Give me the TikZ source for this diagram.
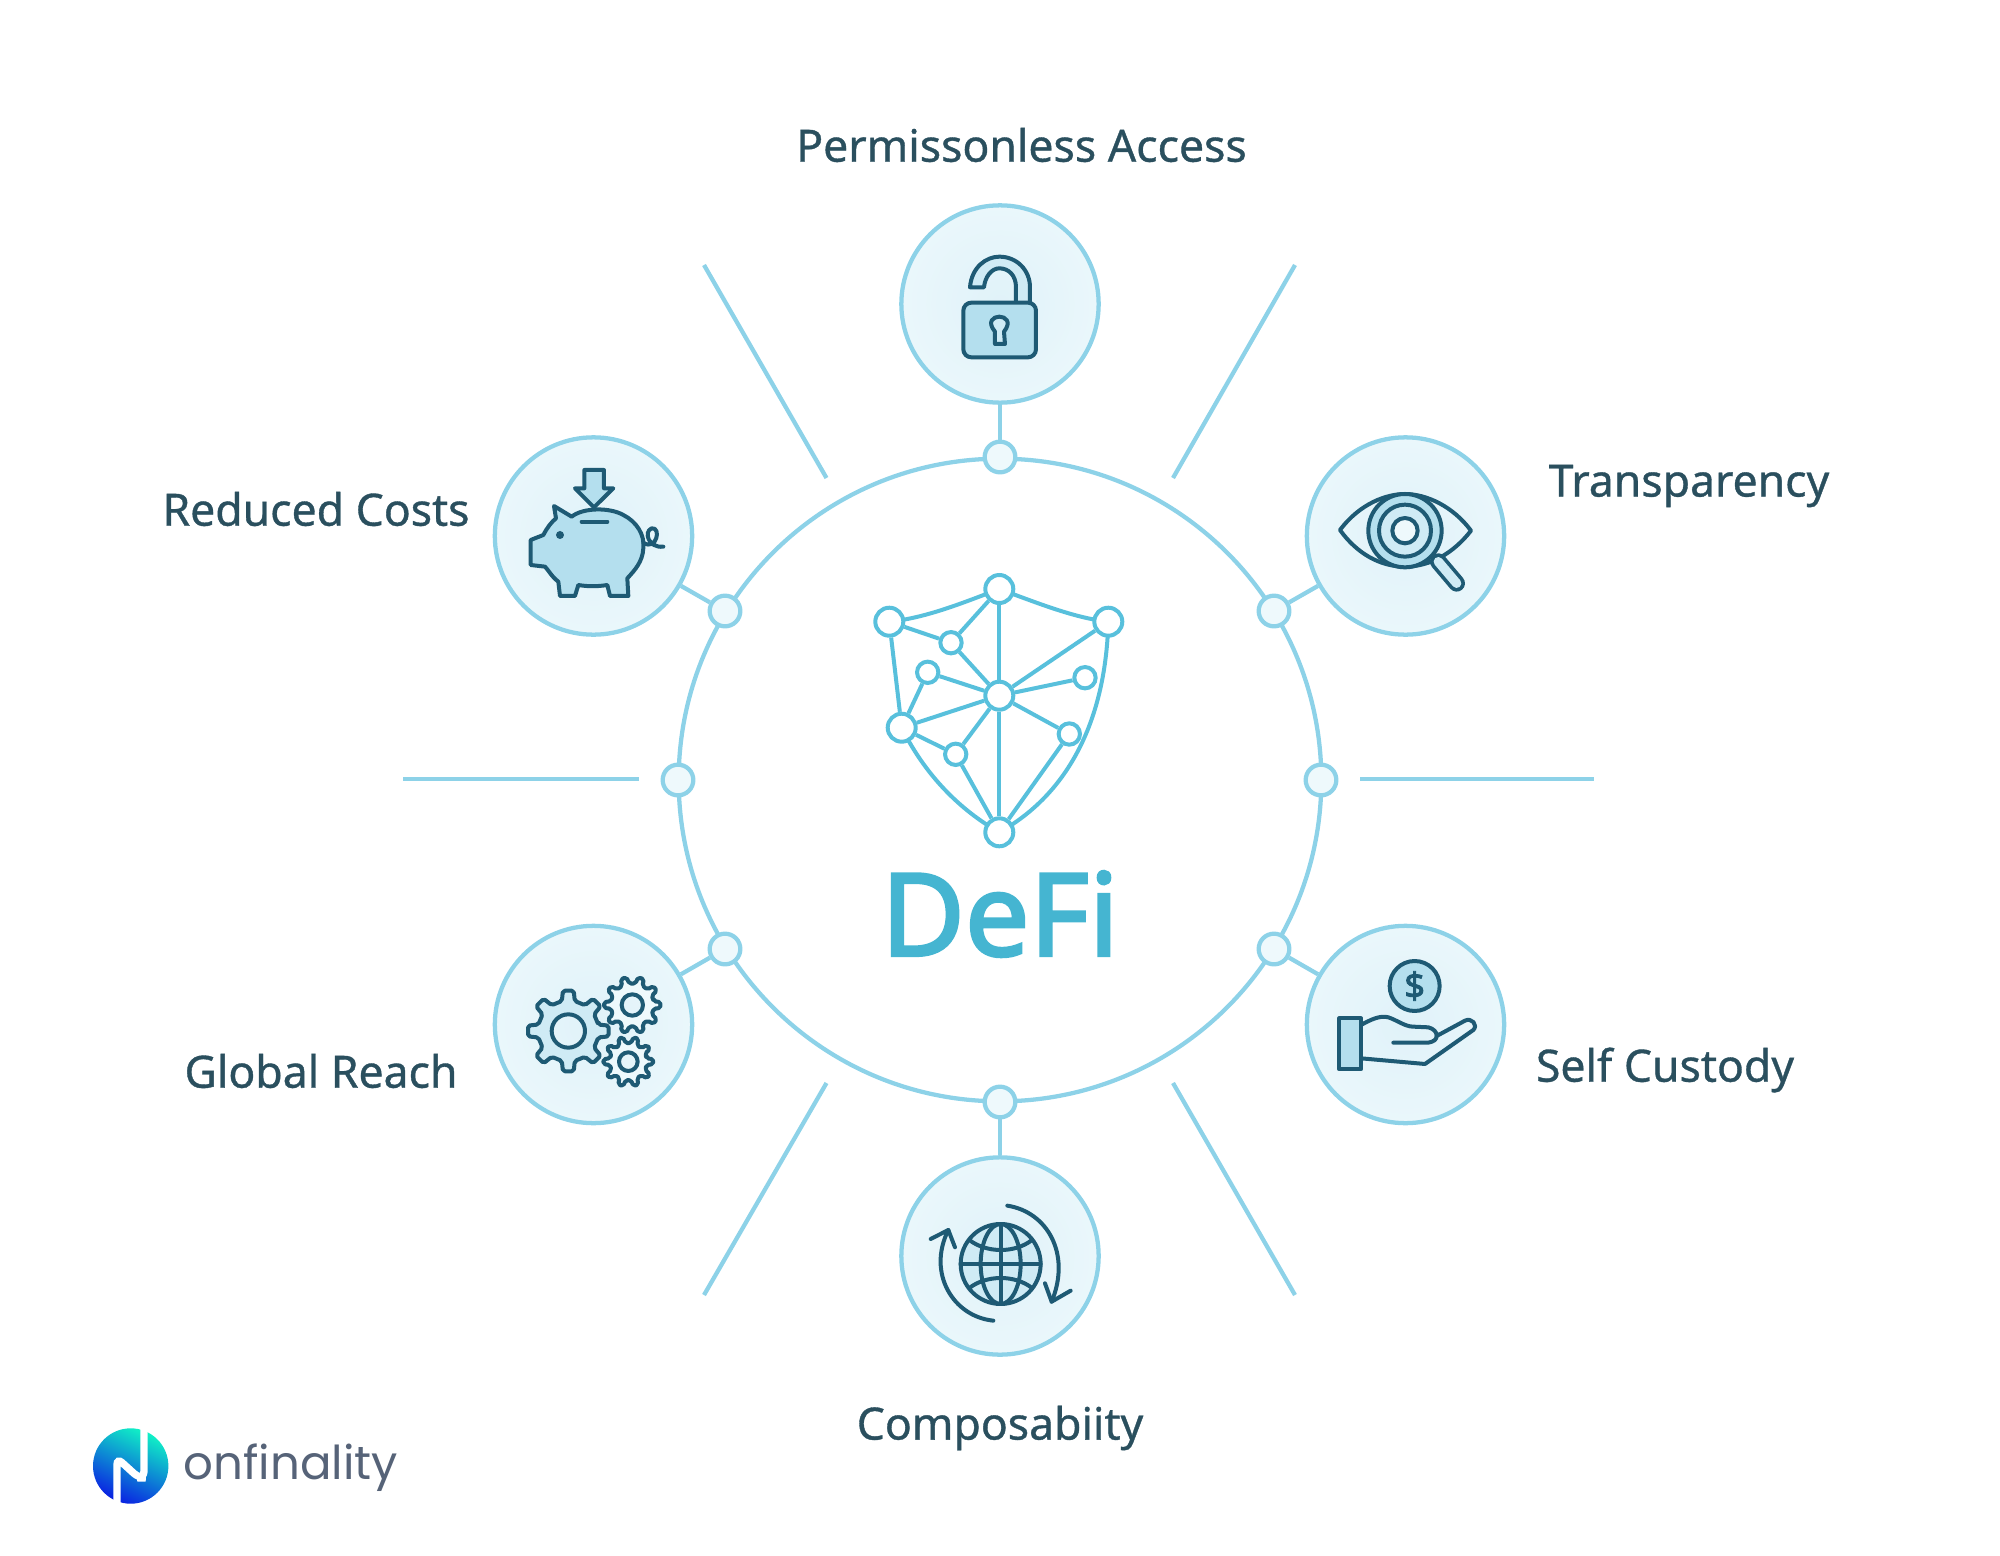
\documentclass[tikz,border=0pt]{standalone}
\usepackage{fontspec}
\setmainfont{Noto Sans}
\newfontfamily\logofont{Poppins}
\newfontfamily\labelfont[FakeBold=0.8]{Noto Sans}
\newfontfamily\defifont[FakeBold=2.5]{Noto Sans}
\definecolor{ringblue}{HTML}{8DD2E8}
\definecolor{ringfill}{HTML}{EEF9FC}
\definecolor{iconinner}{HTML}{E0F2F9}
\definecolor{iconouter}{HTML}{EAF7FB}
\definecolor{icondark}{HTML}{1E5A74}
\definecolor{iconmid}{HTML}{B4DFEE}
\definecolor{iconsoft}{HTML}{CFEBF5}
\definecolor{shieldblue}{HTML}{58C0DC}
\definecolor{defiblue}{HTML}{45B5D1}
\definecolor{labelink}{HTML}{2A4F5E}
\definecolor{logoink}{HTML}{566378}
\definecolor{logomint}{HTML}{10F2C6}
\definecolor{logoblue}{HTML}{0A20E2}
\tikzset{every picture/.style={line width=0.75pt}}
\tikzset{
  ringline/.style={draw=ringblue,line width=3.2pt},
  smalldot/.style={circle,draw=ringblue,fill=ringfill,line width=3.2pt,minimum size=23pt,inner sep=0pt},
  iconcircle/.style={circle,draw=ringblue,inner color=iconinner,outer color=iconouter,line width=3.2pt,minimum size=148pt,inner sep=0pt},
  iconline/.style={draw=icondark,line width=3pt,line join=round,line cap=round},
  labeltext/.style={text=labelink,font=\fontsize{33.4}{38}\labelfont,inner sep=0pt},
  shieldline/.style={draw=shieldblue,line width=3pt},
  shieldbig/.style={circle,draw=shieldblue,fill=white,line width=3pt,minimum size=21pt,inner sep=0pt},
  shieldsmall/.style={circle,draw=shieldblue,fill=white,line width=3pt,minimum size=16pt,inner sep=0pt},
}
\begin{document}
\begin{tikzpicture}[x=0.75pt,y=0.75pt,yscale=-1,xscale=1]
	\useasboundingbox (0,0) rectangle (2000,1556);

	%Ring
	\draw (1000,780) node [circle,ringline,minimum size=482pt,inner sep=0pt] (ring) {};

	%Dots on the ring
	\draw (1000,457) node [smalldot] (dotn) {};
	\draw (1000,1102) node [smalldot] (dots) {};
	\draw (678,780) node [smalldot] (dotw) {};
	\draw (1321,780) node [smalldot] (dote) {};
	\draw (725,611) node [smalldot] (dotnw) {};
	\draw (1274,611) node [smalldot] (dotne) {};
	\draw (725,949) node [smalldot] (dotsw) {};
	\draw (1274,949) node [smalldot] (dotse) {};

	%Icon circles
	\draw (1000,304) node [iconcircle] (lockcircle) {};
	\draw (593.5,536) node [iconcircle] (pigcircle) {};
	\draw (1405.5,536) node [iconcircle] (eyecircle) {};
	\draw (593.5,1024.5) node [iconcircle] (gearcircle) {};
	\draw (1405.5,1024.5) node [iconcircle] (handcircle) {};
	\draw (1000,1256) node [iconcircle] (globecircle) {};

	%Straight Lines
	\draw [ringline] (lockcircle) -- (dotn);
	\draw [ringline] (globecircle) -- (dots);
	\draw [ringline] (pigcircle) -- (dotnw);
	\draw [ringline] (eyecircle) -- (dotne);
	\draw [ringline] (gearcircle) -- (dotsw);
	\draw [ringline] (handcircle) -- (dotse);

	%Free lines
	\coordinate (rayaa) at (704,265);
	\coordinate (rayab) at (826.5,478);
	\coordinate (raybb) at (1173,478);
	\coordinate (rayba) at (1295,265);
	\coordinate (rayca) at (704,1295);
	\coordinate (raycb) at (826.5,1083);
	\coordinate (raydb) at (1173,1083);
	\coordinate (rayda) at (1295,1295);
	\coordinate (rayea) at (403,779);
	\coordinate (rayeb) at (639,779);
	\coordinate (rayfa) at (1360,779);
	\coordinate (rayfb) at (1594,779);
	\draw [ringline] (rayaa) -- (rayab);
	\draw [ringline] (rayba) -- (raybb);
	\draw [ringline] (rayca) -- (raycb);
	\draw [ringline] (rayda) -- (raydb);
	\draw [ringline] (rayea) -- (rayeb);
	\draw [ringline] (rayfa) -- (rayfb);

	%Shield
	\coordinate (shtop) at (999.3,589);
	\coordinate (shleft) at (889.3,621.7);
	\coordinate (shright) at (1108.3,621.7);
	\coordinate (shd) at (901.7,727.7);
	\coordinate (shbot) at (999.3,832.3);
	\draw [shieldline] (shleft) .. controls (925,618) and (960,604) .. (shtop);
	\draw [shieldline] (shtop) .. controls (1040,604) and (1075,618) .. (shright);
	\draw [shieldline] (shd) .. controls (925,775) and (960,810) .. (shbot);
	\draw [shieldline] (shright) .. controls (1106,710) and (1075,790) .. (shbot);
	\draw (999.3,589) node [shieldbig] (shtopn) {};
	\draw (889.3,621.7) node [shieldbig] (shleftn) {};
	\draw (1108.3,621.7) node [shieldbig] (shrightn) {};
	\draw (951,642.7) node [shieldsmall] (sha) {};
	\draw (927.7,672.3) node [shieldsmall] (shb) {};
	\draw (999.3,695.7) node [shieldbig] (shmid) {};
	\draw (1085,677.7) node [shieldsmall] (shc) {};
	\draw (901.7,727.7) node [shieldbig] (shdn) {};
	\draw (1069.3,734) node [shieldsmall] (she) {};
	\draw (955.7,754.3) node [shieldsmall] (shf) {};
	\draw (999.3,832.3) node [shieldbig] (shbotn) {};
	\foreach \from/\to in {shleftn/sha,sha/shtopn,sha/shmid,shb/shmid,shb/shdn,shdn/shmid,shdn/shf,shf/shmid,shf/shbotn,shtopn/shmid,shmid/shbotn,shmid/shrightn,shmid/shc,shmid/she,she/shbotn,shleftn/shdn}
		\draw [shieldline] (\from) -- (\to);

	%Lock
	\begin{scope}[shift={(880,190)},scale=0.3333]
		\draw [iconline,fill=iconsoft] (270,292) .. controls (275,230) and (320,200) .. (358,200) .. controls (410,200) and (450,240) .. (450,292) -- (450,340) -- (408,340) -- (408,292) .. controls (408,255) and (385,235) .. (358,235) .. controls (335,235) and (315,260) .. (312,292) -- cycle;
		\draw [iconline,fill=iconmid,rounded corners=6pt] (250,338) rectangle (468,502);
		\draw [iconline,fill=iconsoft] (345,425) .. controls (320,395) and (340,380) .. (358,380) .. controls (376,380) and (396,395) .. (372,425) -- (375,462) -- (345,462) -- cycle;
	\end{scope}

	%Piggy bank
	\begin{scope}[shift={(480,420)},scale=0.3333]
		\draw [iconline,fill=iconmid] (222,258) -- (275,290) .. controls (310,262) and (390,262) .. (430,285) .. controls (470,305) and (495,345) .. (490,385) .. controls (488,425) and (465,450) .. (442,475) -- (445,528) -- (390,528) -- (382,495) .. controls (350,500) and (325,500) .. (295,495) -- (285,528) -- (240,528) -- (235,485) .. controls (215,470) and (205,450) .. (195,440) -- (152,435) -- (152,360) -- (190,345) .. controls (200,325) and (215,305) .. (228,295) -- cycle;
		\draw [iconline] (305,305) -- (382,305);
		\fill [icondark] (240,345) circle (12);
		\draw [iconline] (490,368) .. controls (530,395) and (545,320) .. (515,325) .. controls (490,335) and (505,385) .. (550,380);
		\draw [iconline,fill=iconmid] (313,150) -- (372,150) -- (372,205) -- (400,205) -- (342,262) -- (285,205) -- (313,205) -- cycle;
	\end{scope}

	%Eye and lens
	\begin{scope}[shift={(1290,420)},scale=0.3333]
		\draw [iconline] (150,330) .. controls (210,250) and (290,222) .. (345,222) .. controls (410,222) and (490,260) .. (543,332) .. controls (490,400) and (420,440) .. (345,440) .. controls (270,440) and (200,400) .. (150,330) -- cycle;
		\draw [icondark,line width=12.5pt,line cap=round] (445,425) -- (500,490);
		\draw [iconsoft,line width=7pt,line cap=round] (445,425) -- (500,490);
		\draw [iconline,fill=iconmid] (345,332) circle (110);
		\draw [iconline,fill=iconsoft] (345,332) circle (78);
		\draw [iconline,fill=ringfill] (345,332) circle (38);
	\end{scope}

	%Gears
	\begin{scope}[shift={(480,910)},scale=0.3333]
		\foreach \gx/\gy/\gout/\gin/\ghole/\gteeth/\gfill in {265/363/122/92/50/8/iconsoft,457/285/85/65/32/10/ringfill,445/455/75/56/28/10/ringfill}
			\draw [iconline,shift={(\gx,\gy)},fill=\gfill,rounded corners=1.5pt,even odd rule] ({-0.27*360/\gteeth}:\gin) \foreach \tooth in {1,...,\gteeth} { -- ({(\tooth-1)*360/\gteeth-0.17*360/\gteeth}:\gout) -- ({(\tooth-1)*360/\gteeth+0.17*360/\gteeth}:\gout) -- ({(\tooth-1)*360/\gteeth+0.27*360/\gteeth}:\gin) -- ({\tooth*360/\gteeth-0.27*360/\gteeth}:\gin) } -- cycle (0,0) circle (\ghole);
	\end{scope}

	%Hand and coin
	\begin{scope}[shift={(1290,910)},scale=0.3333]
		\draw [iconline] (213,345) .. controls (240,330) and (270,315) .. (295,322) .. controls (320,330) and (345,350) .. (370,350) -- (415,352) .. controls (430,355) and (442,368) .. (440,378) -- (525,332) .. controls (545,322) and (565,345) .. (550,360) -- (405,462) -- (213,445);
		\draw [iconline] (310,398) -- (415,398) .. controls (432,395) and (440,388) .. (440,378);
		\draw [iconline,fill=iconmid] (148,325) rectangle (213,478);
		\draw [iconline,fill=iconmid] (374,228) circle (75);
		\draw (374,228) node [text=icondark,inner sep=0pt,font=\fontsize{27}{27}\defifont] (coinsign) {\$};
	\end{scope}

	%Globe
	\begin{scope}[shift={(880,1140)},scale=0.3333]
		\draw [iconline,fill=iconsoft] (362,372) circle (120);
		\draw [iconline] (362,372) ellipse (60 and 120);
		\draw [iconline] (362,252) -- (362,492);
		\draw [iconline] (242,372) -- (482,372);
		\draw [iconline] (268,300) .. controls (320,340) and (405,340) .. (456,300);
		\draw [iconline] (268,444) .. controls (320,404) and (405,404) .. (456,444);
		\draw [iconline] (382,197) .. controls (500,215) and (575,340) .. (515,485);
		\draw [iconline] (495,430) -- (515,485) -- (572,452);
		\draw [iconline] (340,542) .. controls (220,530) and (140,400) .. (205,270);
		\draw [iconline] (152,297) -- (205,270) -- (225,322);
	\end{scope}

	%Logo
	\shade [top color=logomint,bottom color=logoblue,shading angle=-25] (130.7,1466) circle (37.7);
	\draw [white,line width=5.5pt,rounded corners=5pt] (117,1503) -- (117,1458) -- (139,1478) -- (144,1478) -- (144,1428);

	% Text Node
	\draw (1021.5,145) node [labeltext] (permlabel) {Permissonless Access};
	% Text Node
	\draw (316,509) node [labeltext] (costlabel) {Reduced Costs};
	% Text Node
	\draw (1689,486) node [labeltext] (translabel) {Transparency};
	% Text Node
	\draw (321,1071) node [labeltext] (reachlabel) {Global Reach};
	% Text Node
	\draw (1665,1070) node [labeltext] (custlabel) {Self Custody};
	% Text Node
	\draw (1000,1428) node [labeltext] (complabel) {Composabiity};
	% Text Node
	\draw (1000,914) node [text=defiblue,inner sep=0pt,font=\fontsize{86}{90}\defifont] (defilabel) {DeFi};
	% Text Node
	\draw (291,1468) node [text=logoink,inner sep=0pt,font=\fontsize{35}{40}\logofont] (logolabel) {onfinality};
\end{tikzpicture}
\end{document}
